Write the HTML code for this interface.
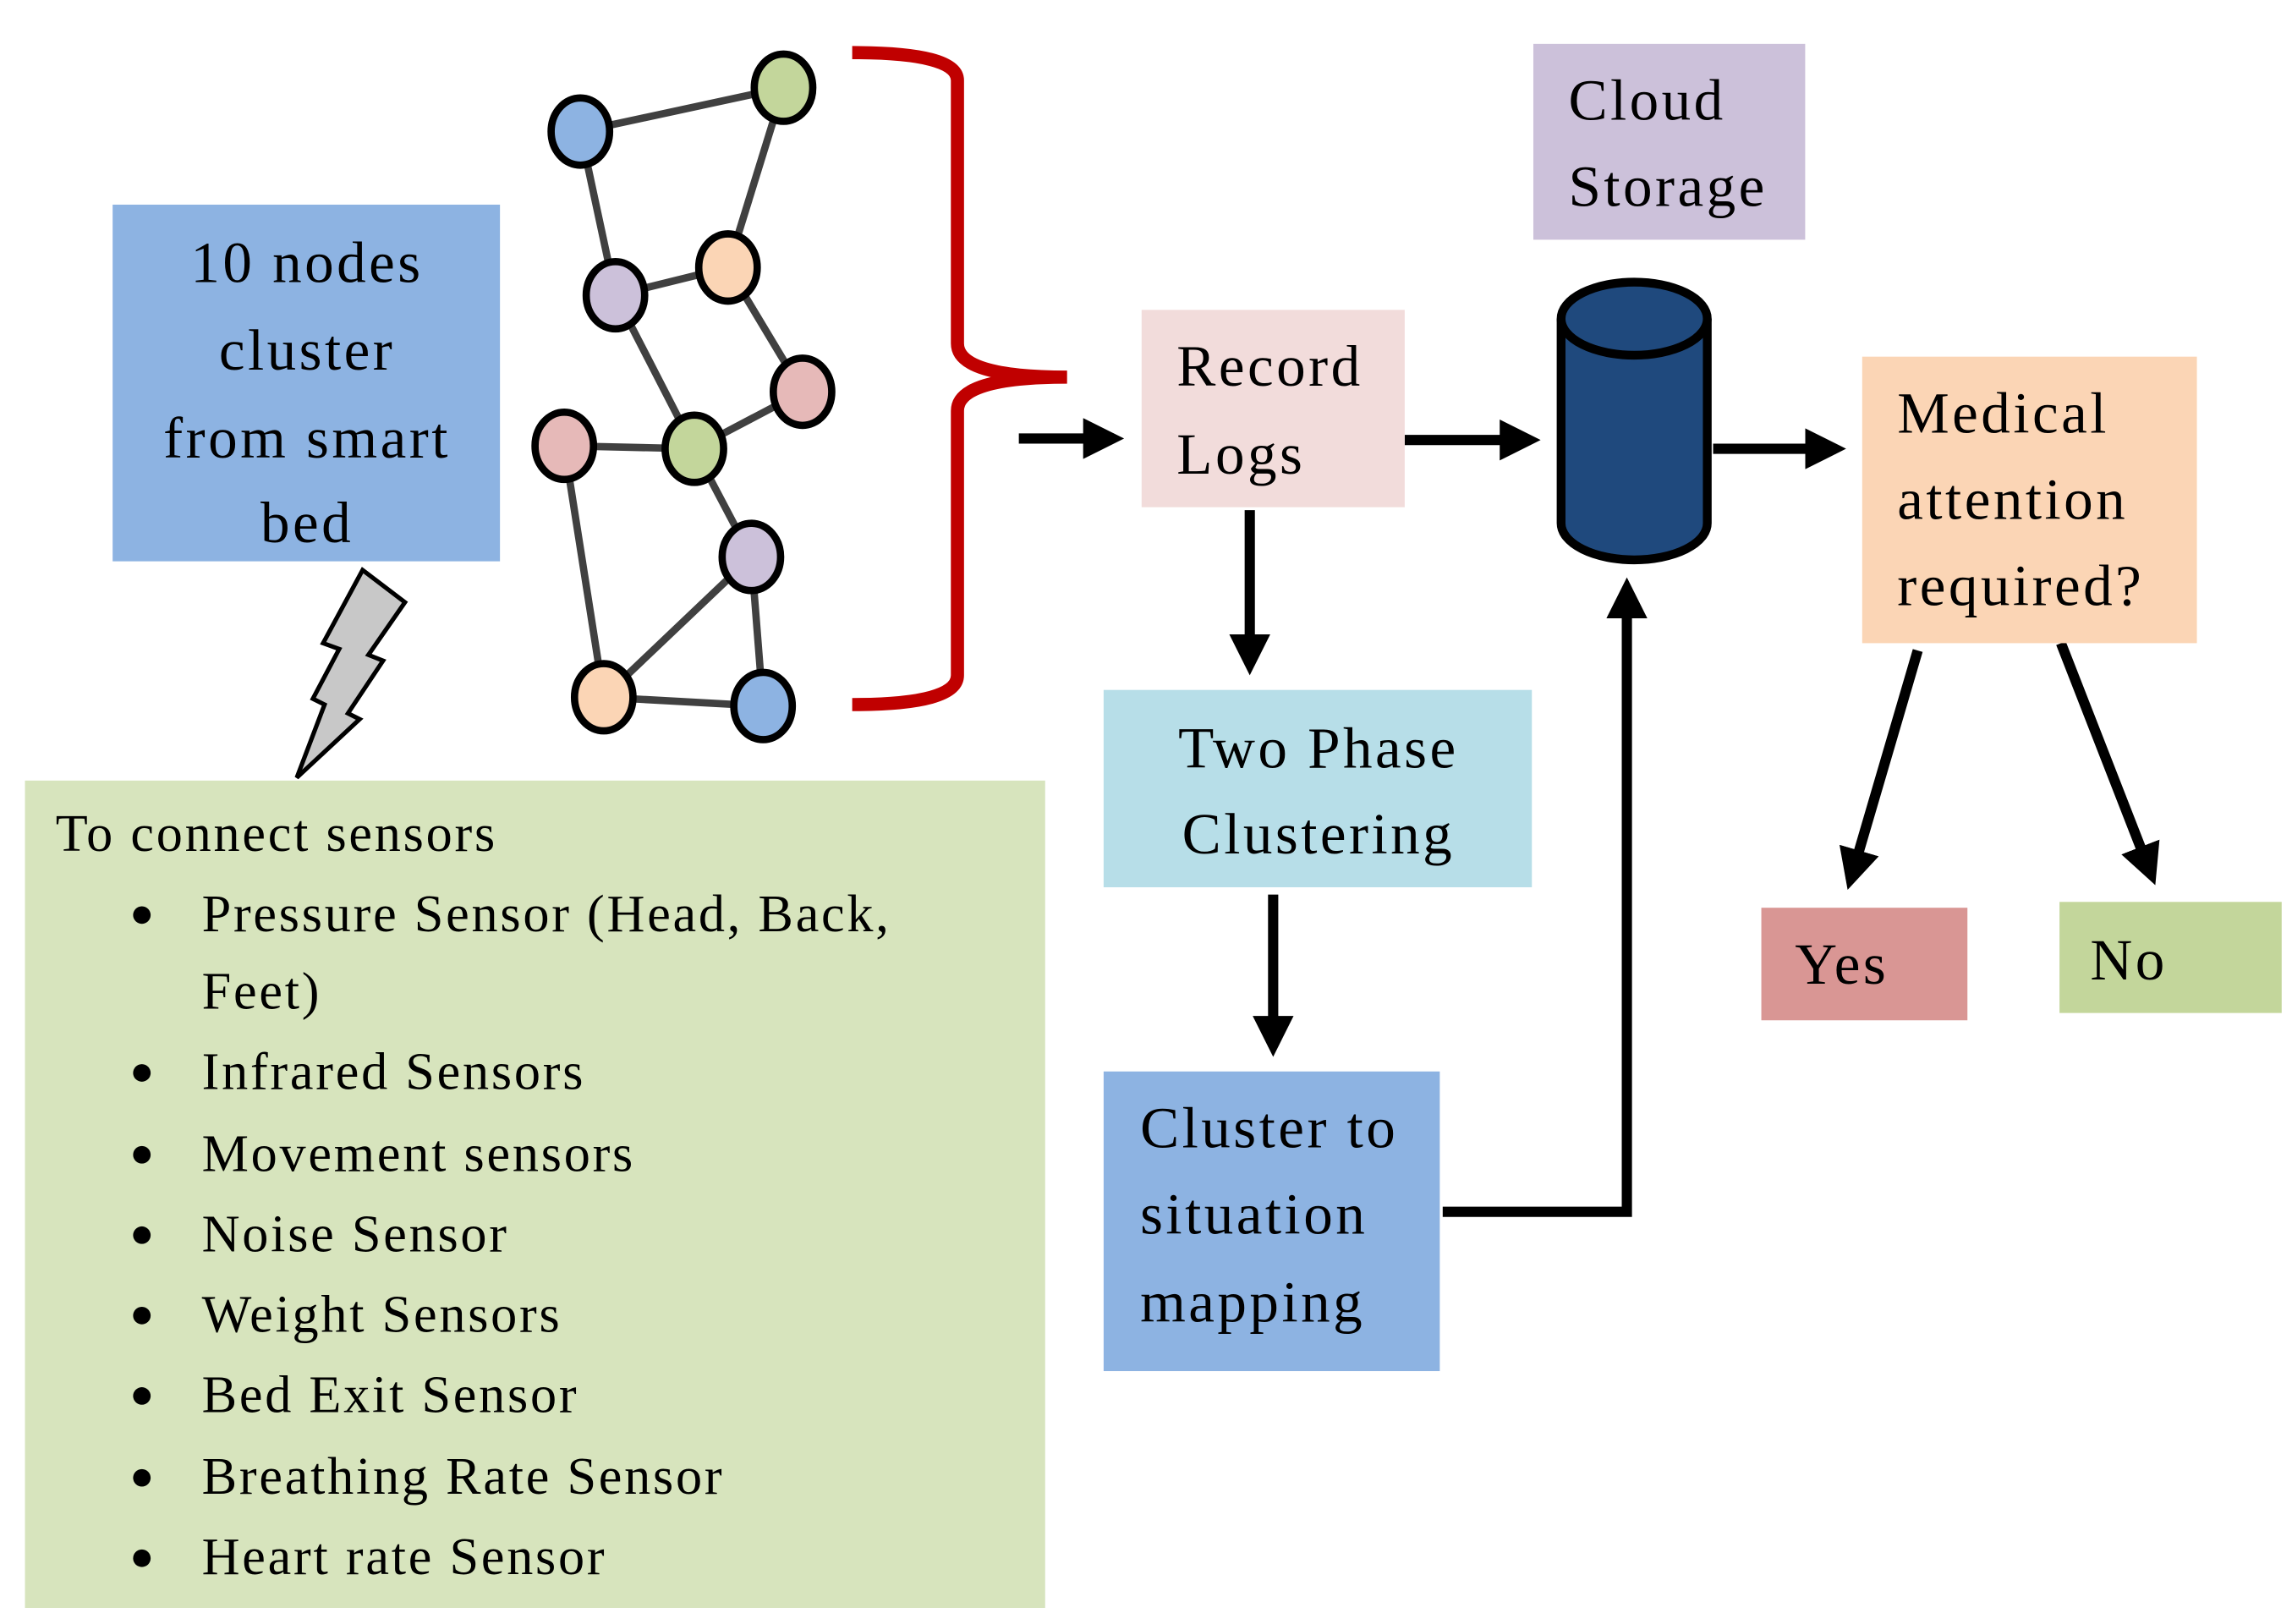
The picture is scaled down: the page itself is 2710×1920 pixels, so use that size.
<!DOCTYPE html>
<html><head><meta charset="utf-8"><style>
html,body{margin:0;padding:0;background:#fff;}
svg{display:block}
text{font-family:"Liberation Serif",serif;fill:#000}
.l{letter-spacing:1.6px}
.b{letter-spacing:2px}
</style></head><body>
<svg width="2710" height="1920" viewBox="0 0 1568 1111" xmlns="http://www.w3.org/2000/svg">
<defs>
<marker id="ah" markerWidth="4" markerHeight="4" refX="3" refY="2" orient="auto" markerUnits="strokeWidth">
<path d="M0,0 L4,2 L0,4 z" fill="#000"/></marker>
</defs>
<rect width="1568" height="1111" fill="#fff"/>
<rect x="77" y="140" width="265" height="244" fill="#8db3e2"/>
<g font-size="40" text-anchor="middle" class="b">
<text x="210" y="193">10 nodes</text>
<text x="210" y="253">cluster</text>
<text x="210" y="313">from smart</text>
<text x="210" y="371">bed</text>
</g>
<path d="M248,390 L277,412 L252,448 L262,452 L238,488 L246,492 L203,532 L222,482 L214,478 L232,444 L221,440 Z" fill="#c8c8c8" stroke="#000" stroke-width="3"/>
<rect x="17" y="534" width="698" height="566" fill="#d7e4bd"/>
<g font-size="36" class="l">
<text x="38" y="582">To connect sensors</text>
<text x="138" y="637">Pressure Sensor (Head, Back,</text>
<text x="138" y="690">Feet)</text>
<text x="138" y="745">Infrared Sensors</text>
<text x="138" y="801">Movement sensors</text>
<text x="138" y="856">Noise Sensor</text>
<text x="138" y="911">Weight Sensors</text>
<text x="138" y="966">Bed Exit Sensor</text>
<text x="138" y="1022">Breathing Rate Sensor</text>
<text x="138" y="1077">Heart rate Sensor</text>
</g>
<g fill="#000">
<circle cx="97" cy="626" r="6"/><circle cx="97" cy="734" r="6"/><circle cx="97" cy="790" r="6"/>
<circle cx="97" cy="845" r="6"/><circle cx="97" cy="900" r="6"/><circle cx="97" cy="955" r="6"/>
<circle cx="97" cy="1011" r="6"/><circle cx="97" cy="1066" r="6"/>
</g>
<g stroke="#404040" stroke-width="5">
<line x1="397" y1="90" x2="536" y2="60"/><line x1="536" y1="60" x2="498" y2="183"/>
<line x1="397" y1="90" x2="421" y2="202"/><line x1="421" y1="202" x2="498" y2="183"/>
<line x1="498" y1="183" x2="549" y2="268"/><line x1="549" y1="268" x2="475" y2="307"/>
<line x1="421" y1="202" x2="475" y2="307"/><line x1="386" y1="305" x2="475" y2="307"/>
<line x1="475" y1="307" x2="514" y2="381"/><line x1="386" y1="305" x2="413" y2="477"/>
<line x1="514" y1="381" x2="413" y2="477"/><line x1="514" y1="381" x2="522" y2="483"/>
<line x1="413" y1="477" x2="522" y2="483"/>
</g>
<g stroke="#000" stroke-width="5">
<ellipse cx="397" cy="90" rx="20" ry="23" fill="#8db3e2"/>
<ellipse cx="536" cy="60" rx="20" ry="23" fill="#c3d69b"/>
<ellipse cx="421" cy="202" rx="20" ry="23" fill="#ccc1da"/>
<ellipse cx="498" cy="183" rx="20" ry="23" fill="#fbd5b5"/>
<ellipse cx="549" cy="268" rx="20" ry="23" fill="#e6b9b8"/>
<ellipse cx="386" cy="305" rx="20" ry="23" fill="#e6b9b8"/>
<ellipse cx="475" cy="307" rx="20" ry="23" fill="#c3d69b"/>
<ellipse cx="514" cy="381" rx="20" ry="23" fill="#ccc1da"/>
<ellipse cx="413" cy="477" rx="20" ry="23" fill="#fbd5b5"/>
<ellipse cx="522" cy="483" rx="20" ry="23" fill="#8db3e2"/>
</g>
<path d="M583,36 Q655,36 655,55 L655,235 Q655,258 730,258 Q655,258 655,281 L655,462 Q655,482 583,482" fill="none" stroke="#c00000" stroke-width="9"/>
<g stroke="#000" stroke-width="7" fill="none">
<line x1="697" y1="300" x2="762" y2="300" marker-end="url(#ah)"/>
<line x1="855" y1="349" x2="855" y2="455" marker-end="url(#ah)"/>
<line x1="871" y1="612" x2="871" y2="716" marker-end="url(#ah)"/>
<polyline points="987,829 1113,829 1113,402" marker-end="url(#ah)"/>
<line x1="961" y1="301" x2="1047" y2="301" marker-end="url(#ah)"/>
<line x1="1172" y1="307" x2="1256" y2="307" marker-end="url(#ah)"/>
<line x1="1312" y1="445" x2="1266" y2="602" marker-end="url(#ah)"/>
<line x1="1410" y1="440" x2="1472" y2="599" marker-end="url(#ah)"/>
</g>
<rect x="781" y="212" width="180" height="135" fill="#f2dcdb"/>
<g font-size="40" class="b"><text x="805" y="264">Record</text><text x="805" y="324">Logs</text></g>
<rect x="755" y="472" width="293" height="135" fill="#b7dee8"/>
<g font-size="40" text-anchor="middle" class="b"><text x="902" y="525">Two Phase</text><text x="902" y="584">Clustering</text></g>
<rect x="755" y="733" width="230" height="205" fill="#8db3e2"/>
<g font-size="40" class="b"><text x="780" y="785">Cluster to</text><text x="780" y="844">situation</text><text x="780" y="904">mapping</text></g>
<rect x="1049" y="30" width="186" height="134" fill="#ccc1da"/>
<g font-size="40" class="b"><text x="1073" y="82">Cloud</text><text x="1073" y="141">Storage</text></g>
<path d="M1068,218 L1068,358 A50,25 0 0 0 1168,358 L1168,218" fill="#1f497d" stroke="#000" stroke-width="6"/>
<ellipse cx="1118" cy="218" rx="50" ry="25" fill="#1f497d" stroke="#000" stroke-width="6"/>
<rect x="1274" y="244" width="229" height="196" fill="#fbd5b5"/>
<g font-size="40" class="b"><text x="1298" y="296">Medical</text><text x="1298" y="355">attention</text><text x="1298" y="414">required?</text></g>
<rect x="1205" y="621" width="141" height="77" fill="#d99694"/>
<text x="1228" y="673" font-size="40" class="b">Yes</text>
<rect x="1409" y="617" width="152" height="76" fill="#c3d69b"/>
<text x="1430" y="670" font-size="40" class="b">No</text>
</svg>
</body></html>
